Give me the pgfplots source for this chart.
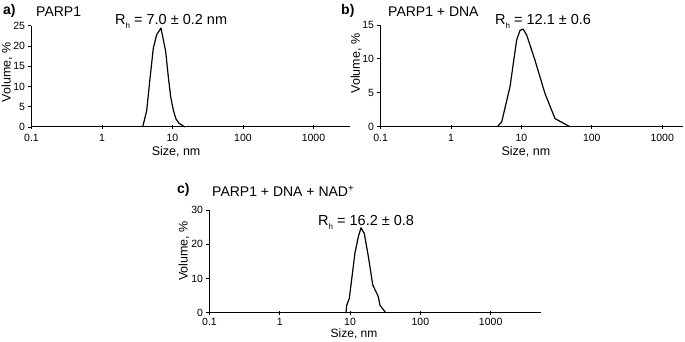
\documentclass[border=0pt]{standalone}
\usepackage{fontspec}
\setmainfont{Liberation Sans}
\usepackage{pgfplots}
\pgfplotsset{compat=1.18}
\newcommand{\Rh}{R\raisebox{-0.5ex}{\fontsize{8}{9}\selectfont h}}
\pgfplotsset{
  dlsaxis/.style={
    scale only axis, axis lines=left,
    axis line style={-, line width=1pt},
    xmin=0.1, ymin=0, enlargelimits=false, clip=false,
    xtick={0.1,1,10,100,1000}, xticklabels={0.1,1,10,100,1000},
    tick align=outside,
    major tick length=4pt,
    every tick/.style={black, line width=0.8pt},
    every x tick/.style={black, line width=0.8pt, yshift=2pt},
    tick label style={font=\fontsize{10.5}{12}\selectfont},
    /pgf/number format/assume math mode=true,
    yticklabel style={xshift=1pt},
    label style={font=\fontsize{12.5}{14}\selectfont},
    ylabel={Volume, \%}, xlabel={Size, nm},
  },
  dlsline/.style={black, line width=1.2pt, line join=round, mark=none},
}
\begin{document}
\begin{tikzpicture}[x=1pt,y=1pt]
\useasboundingbox (0,0) rectangle (685,342);

% a) PARP1
\begin{axis}[xmode=log, xminorticks=false, dlsaxis, at={(31.5pt,215pt)}, anchor=south west,
  width=318.5pt, height=101.3pt, xmax=3296, ymax=25,
  ytick={0,5,10,15,20,25},
  xlabel style={at={(axis description cs:0.454,-0.245)}, anchor=center},
  ylabel style={at={(axis description cs:-0.077,0.54)}, anchor=center}]
\addplot[dlsline] coordinates {
(3.78,0) (4.30,4) (4.80,12) (5.35,19.5) (5.97,22.8) (6.87,24.4)
(8.01,18.6) (8.77,12) (9.42,7.5) (10.26,4.2) (11.2,2) (12.4,0.9) (15.0,0)};
\end{axis}

% b) PARP1 + DNA
\begin{axis}[xmode=log, xminorticks=false, dlsaxis, at={(380.6pt,215.3pt)}, anchor=south west,
  width=302.7pt, height=101.7pt, xmax=1995, ymax=15,
  ytick={0,5,10,15},
  xlabel style={at={(axis description cs:0.48,-0.245)}, anchor=center},
  ylabel style={at={(axis description cs:-0.081,0.62)}, anchor=center}]
\addplot[dlsline] coordinates {
(4.55,0) (5.25,0.7) (6.89,5.9) (8.57,12.8) (9.55,14.2) (10.6,14.4)
(11.9,13.5) (15.6,9.8) (21.6,4.9) (30.0,1.2) (44,0.25) (49,0)};
\end{axis}

% c) PARP1 + DNA + NAD+
\begin{axis}[xmode=log, xminorticks=false, dlsaxis, at={(209.5pt,29.3pt)}, anchor=south west,
  width=331.5pt, height=102.7pt, xmax=5200, ymax=30,
  ytick={0,10,20,30},
  xticklabel style={yshift=2pt},
  xlabel style={at={(axis description cs:0.436,-0.21)}, anchor=center,
    font=\fontsize{12}{14}\selectfont},
  ylabel style={at={(axis description cs:-0.077,0.6)}, anchor=center}]
\addplot[dlsline] coordinates {
(8.75,0) (8.96,2.2) (9.75,4.2) (10.5,9.5) (11.7,17.3) (13.1,22.2)
(14.3,24.8) (15.9,23.2) (18.2,16.4) (21.0,8.1) (25.2,4.7) (26.6,2.2)
(31.3,0.3) (32.5,0)};
\end{axis}

\begin{scope}[every node/.style={inner sep=0pt}]
\node[anchor=west, font=\bfseries\fontsize{14}{16}\selectfont] at (3,331) {a)};
\node[anchor=west, font=\fontsize{14}{16}\selectfont] at (36,330) {PARP1};
\node[anchor=base west, font=\fontsize{14.5}{16}\selectfont] at (115,317) {\Rh\ = 7.0 ± 0.2 nm};

\node[anchor=west, font=\bfseries\fontsize{14}{16}\selectfont] at (341,331) {b)};
\node[anchor=west, font=\fontsize{14}{16}\selectfont] at (388,330) {PARP1 + DNA};
\node[anchor=base west, font=\fontsize{14.5}{16}\selectfont] at (495,317) {\Rh\ = 12.1 ± 0.6};

\node[anchor=west, font=\bfseries\fontsize{14}{16}\selectfont] at (177,152) {c)};
\node[anchor=west, font=\fontsize{14}{16}\selectfont] at (212,151) {PARP1 + DNA + NAD\textsuperscript{+}};
\node[anchor=base west, font=\fontsize{14.5}{16}\selectfont] at (318,116) {\Rh\ = 16.2 ± 0.8};
\end{scope}
\end{tikzpicture}
\end{document}
